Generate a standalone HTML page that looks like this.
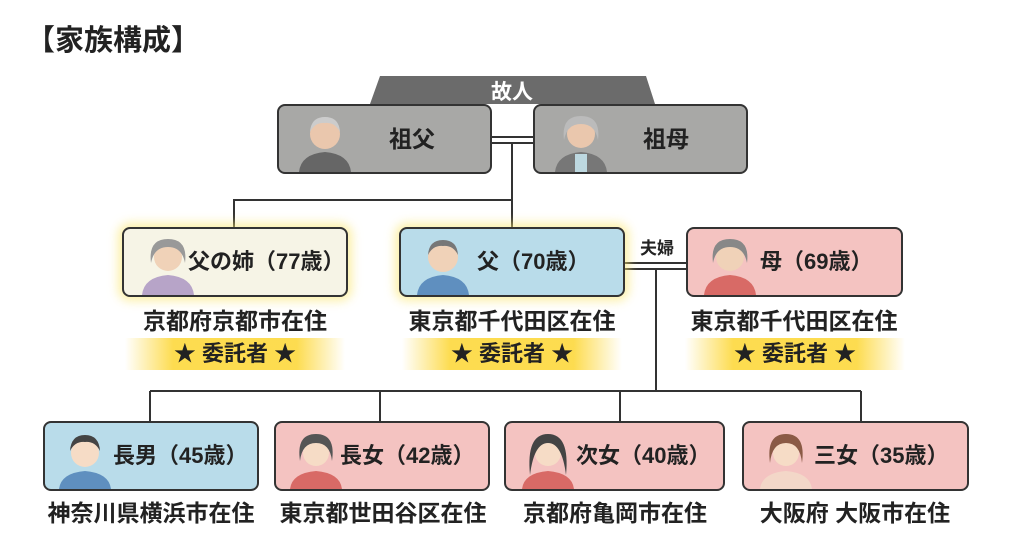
<!DOCTYPE html>
<html><head><meta charset="utf-8"><style>
body{margin:0;width:1024px;height:559px;background:#fff;position:relative;overflow:hidden;font-family:"Liberation Sans","Noto Sans CJK JP",sans-serif;font-weight:bold;color:#222}
.a{position:absolute}
.box{position:absolute;border:2px solid #333;border-radius:8px;box-sizing:border-box;height:70px;overflow:hidden}
.nm{position:absolute;top:0;height:66px;line-height:66px;font-size:22px;white-space:nowrap}
.res{position:absolute;font-size:23px;line-height:26px;text-align:center;white-space:nowrap}
.band{position:absolute;height:32px;line-height:32px;font-size:22px;text-align:center;background:linear-gradient(90deg,rgba(253,224,80,0),rgba(253,218,70,.95) 22%,rgba(253,218,70,.95) 78%,rgba(253,224,80,0))}
.glow{box-shadow:0 0 10px 4px rgba(250,230,110,.6)}
</style></head><body>
<div class="a" style="left:26px;top:24px;font-size:29px;line-height:34px">【家族構成】</div>
<svg class="a" style="left:0;top:0" width="1024" height="559">
<polygon points="380,76 646,76 655,104 370,104" fill="#6b6b6b"/>
<text x="512" y="99" fill="#fff" font-size="21" text-anchor="middle" font-weight="bold" font-family="Liberation Sans,Noto Sans CJK JP,sans-serif">故人</text>
<g stroke="#333" stroke-width="2" fill="none">
<line x1="491" y1="137" x2="533" y2="137"/><line x1="491" y1="143" x2="533" y2="143"/>
<line x1="512" y1="143" x2="512" y2="227"/>
<line x1="233" y1="200" x2="512" y2="200"/><line x1="234" y1="200" x2="234" y2="227"/>
<line x1="624" y1="263" x2="686" y2="263"/><line x1="624" y1="269" x2="686" y2="269"/>
<line x1="656" y1="269" x2="656" y2="391"/>
<line x1="150" y1="391" x2="861" y2="391"/>
<line x1="150" y1="391" x2="150" y2="421"/><line x1="380" y1="391" x2="380" y2="421"/>
<line x1="620" y1="391" x2="620" y2="421"/><line x1="861" y1="391" x2="861" y2="421"/>
</g>
<text x="657" y="254" font-size="17" text-anchor="middle" font-weight="bold" fill="#222" font-family="Liberation Sans,Noto Sans CJK JP,sans-serif">夫婦</text>
</svg>

<div class="box" style="left:277px;top:104px;width:215px;background:#a8a8a6"><svg class="a" style="left:16px;top:6px" width="60" height="60"><path d="M4 60 Q6 42 30 40 Q54 42 56 60Z" fill="#666"/><circle cx="30" cy="22" r="15" fill="#eac7ad"/><path d="M15 20 Q16 5 30 5 Q44 5 45 20 Q40 10 30 11 Q20 10 15 20Z" fill="#ccc"/></svg><div class="nm" style="left:110px;font-size:23px">祖父</div></div>
<div class="box" style="left:533px;top:104px;width:215px;background:#a8a8a6"><svg class="a" style="left:16px;top:6px" width="60" height="60"><path d="M4 60 Q6 42 30 40 Q54 42 56 60Z" fill="#777"/><rect x="24" y="42" width="12" height="18" fill="#bdd8e0"/><circle cx="30" cy="22" r="14" fill="#eac7ad"/><path d="M13 28 Q10 4 30 4 Q50 4 47 28 Q44 12 30 12 Q16 12 13 28Z" fill="#bbb"/></svg><div class="nm" style="left:108px;font-size:23px">祖母</div></div>

<div class="box glow" style="left:122px;top:227px;width:226px;background:#f6f4e6"><svg class="a" style="left:14px;top:6px" width="60" height="60"><path d="M4 60 Q6 42 30 40 Q54 42 56 60Z" fill="#b7a4c8"/><circle cx="30" cy="22" r="14" fill="#f0d2b8"/><path d="M13 28 Q10 4 30 4 Q50 4 47 28 Q44 12 30 12 Q16 12 13 28Z" fill="#999"/></svg><div class="nm" style="left:64px">父の姉（77歳）</div></div>
<div class="box glow" style="left:399px;top:227px;width:226px;background:#b9dcea"><svg class="a" style="left:12px;top:6px" width="60" height="60"><path d="M4 60 Q6 42 30 40 Q54 42 56 60Z" fill="#5f8fbf"/><circle cx="30" cy="22" r="15" fill="#f0d2b8"/><path d="M15 20 Q16 5 30 5 Q44 5 45 20 Q40 10 30 11 Q20 10 15 20Z" fill="#777"/></svg><div class="nm" style="left:76px">父（70歳）</div></div>
<div class="box" style="left:686px;top:227px;width:217px;background:#f4c3c1"><svg class="a" style="left:12px;top:6px" width="60" height="60"><path d="M4 60 Q6 42 30 40 Q54 42 56 60Z" fill="#d86a66"/><circle cx="30" cy="22" r="14" fill="#f0d2b8"/><path d="M13 28 Q10 4 30 4 Q50 4 47 28 Q44 12 30 12 Q16 12 13 28Z" fill="#888"/></svg><div class="nm" style="left:72px">母（69歳）</div></div>

<div class="res" style="left:112px;top:308px;width:246px">京都府京都市在住</div>
<div class="res" style="left:389px;top:308px;width:246px">東京都千代田区在住</div>
<div class="res" style="left:671px;top:308px;width:246px">東京都千代田区在住</div>
<div class="band" style="left:125px;top:338px;width:220px">★ 委託者 ★</div>
<div class="band" style="left:402px;top:338px;width:220px">★ 委託者 ★</div>
<div class="band" style="left:685px;top:338px;width:220px">★ 委託者 ★</div>

<div class="box" style="left:43px;top:421px;width:216px;background:#b9dcea"><svg class="a" style="left:10px;top:6px" width="60" height="60"><path d="M4 60 Q6 44 30 42 Q54 44 56 60Z" fill="#5f8fbf"/><circle cx="30" cy="24" r="14" fill="#f6dcc6"/><path d="M15 22 Q16 6 30 6 Q44 6 45 22 Q40 12 30 13 Q20 12 15 22Z" fill="#444"/></svg><div class="nm" style="left:68px">長男（45歳）</div></div>
<div class="box" style="left:274px;top:421px;width:216px;background:#f4c3c1"><svg class="a" style="left:10px;top:6px" width="60" height="60"><path d="M4 60 Q6 44 30 42 Q54 44 56 60Z" fill="#d86a66"/><circle cx="30" cy="24" r="13" fill="#f6dcc6"/><path d="M14 32 Q10 5 30 5 Q50 5 46 32 Q44 14 30 14 Q16 14 14 32Z" fill="#555"/></svg><div class="nm" style="left:64px">長女（42歳）</div></div>
<div class="box" style="left:504px;top:421px;width:221px;background:#f4c3c1"><svg class="a" style="left:12px;top:6px" width="60" height="60"><path d="M4 60 Q6 44 30 42 Q54 44 56 60Z" fill="#d86a66"/><circle cx="30" cy="24" r="13" fill="#f6dcc6"/><path d="M12 46 Q8 5 30 5 Q52 5 48 46 Q44 14 30 14 Q16 14 12 46Z" fill="#444"/></svg><div class="nm" style="left:70px">次女（40歳）</div></div>
<div class="box" style="left:742px;top:421px;width:227px;background:#f4c3c1"><svg class="a" style="left:12px;top:6px" width="60" height="60"><path d="M4 60 Q6 44 30 42 Q54 44 56 60Z" fill="#f3d7c8"/><circle cx="30" cy="24" r="13" fill="#f6dcc6"/><path d="M14 34 Q10 5 30 5 Q50 5 46 34 Q44 14 30 14 Q16 14 14 34Z" fill="#8a5a45"/></svg><div class="nm" style="left:70px">三女（35歳）</div></div>

<div class="res" style="left:31px;top:500px;width:240px">神奈川県横浜市在住</div>
<div class="res" style="left:263px;top:500px;width:240px">東京都世田谷区在住</div>
<div class="res" style="left:495px;top:500px;width:240px">京都府亀岡市在住</div>
<div class="res" style="left:735px;top:500px;width:240px">大阪府 大阪市在住</div>
</body></html>
